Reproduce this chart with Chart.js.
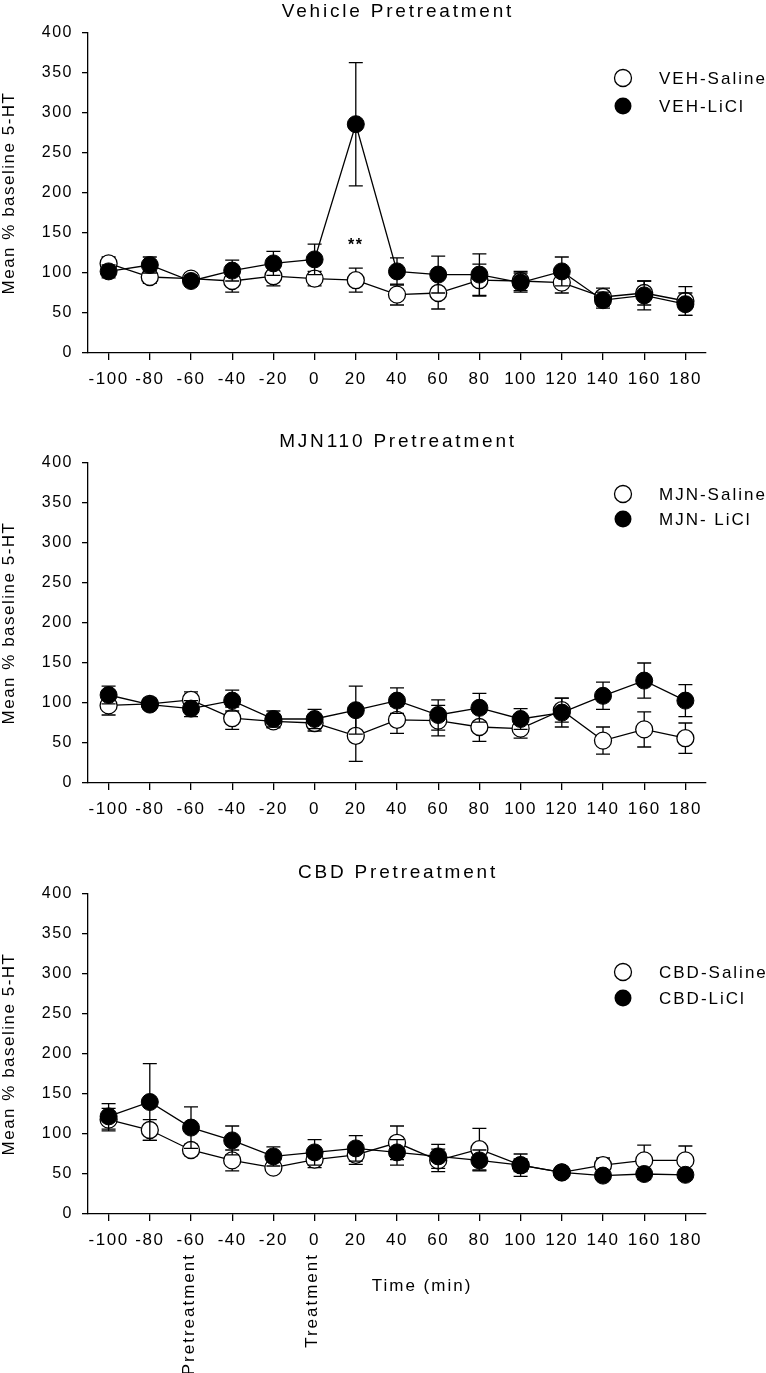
<!DOCTYPE html>
<html>
<head>
<meta charset="utf-8">
<script src="https://cdn.jsdelivr.net/npm/chart.js@4.4.1/dist/chart.umd.min.js"></script>
<style>
  body { margin: 0; background: #fff; }
  .panel { position: absolute; left: 0; width: 766px; }
</style>
</head>
<body>
<div class="panel" style="top:0px;height:430px"><canvas id="c1" width="766" height="430"></canvas></div>
<div class="panel" style="top:430px;height:430px"><canvas id="c2" width="766" height="430"></canvas></div>
<div class="panel" style="top:861px;height:512px"><canvas id="c3" width="766" height="512"></canvas></div>
<script>
// time points (min)
const xVals = [-100, -80, -60, -40, -20, 0, 20, 40, 60, 80, 100, 120, 140, 160, 180];
const yTicks = [0, 50, 100, 150, 200, 250, 300, 350, 400];

// Vehicle pretreatment
const vehSaline    = [112, 95, 93, 90, 96, 93, 91, 73, 75, 91, 90, 88, 70, 75, 65];
const vehSalineErr = [8, 8, 6, 14, 12, 9, 15, 13, 20, 20, 12, 13, 11, 15, 18];
const vehLiCl      = [102, 110, 90, 103, 112, 117, 286, 102, 98, 98, 88, 102, 66, 72, 61];
const vehLiClErr   = [8, 10, 5, 13, 15, 19, 77, 17, 23, 26, 12, 18, 10, 18, 14];

// MJN110 pretreatment
const mjnSaline    = [97, 99, 104, 81, 77, 75, 59, 79, 78, 70, 68, 91, 53, 67, 56];
const mjnSalineErr = [12, 6, 10, 14, 8, 10, 32, 17, 19, 18, 12, 15, 17, 22, 19];
const mjnLiCl      = [110, 98, 93, 103, 80, 80, 91, 103, 85, 94, 80, 88, 109, 128, 103];
const mjnLiClErr   = [11, 6, 10, 13, 10, 12, 30, 16, 19, 18, 13, 18, 17, 22, 20];

// CBD pretreatment
const cbdSaline    = [118, 105, 80, 67, 58, 68, 74, 89, 67, 81, 61, 52, 61, 67, 67];
const cbdSalineErr = [14, 13, 7, 13, 6, 10, 12, 21, 14, 26, 8, 4, 9, 19, 18];
const cbdLiCl      = [122, 140, 108, 92, 72, 77, 82, 77, 72, 67, 61, 52, 48, 50, 49];
const cbdLiClErr   = [16, 48, 26, 18, 12, 16, 16, 16, 15, 13, 14, 5, 6, 7, 6];

// significance mark and event labels
const starMark = { x: 20, y: 139, text: '**' };
const eventLabels = [{ x: -60, text: 'Pretreatment' }, { x: 0, text: 'Treatment' }];

const FONT = '"Liberation Sans", Arial, sans-serif';

function toPoints(vals) {
    return vals.map(function (v, i) { return { x: xVals[i], y: v }; });
}

// error bars, drawn just before each dataset so markers sit on top
const errorBars = {
    id: 'errorBars',
    beforeDatasetDraw(chart, args) {
        const ds = chart.data.datasets[args.index];
        const xs = chart.scales.x, ys = chart.scales.y;
        const ctx = chart.ctx;
        ctx.save();
        ctx.strokeStyle = '#000';
        ctx.lineWidth = 1.3;
        ds.data.forEach(function (p, i) {
            const px = xs.getPixelForValue(p.x);
            const top = ys.getPixelForValue(p.y + ds.err[i]);
            const bot = ys.getPixelForValue(p.y - ds.err[i]);
            ctx.beginPath();
            ctx.moveTo(px, top); ctx.lineTo(px, bot);
            ctx.moveTo(px - 7, top); ctx.lineTo(px + 7, top);
            ctx.moveTo(px - 7, bot); ctx.lineTo(px + 7, bot);
            ctx.stroke();
        });
        ctx.restore();
    }
};

// titles, legend and annotations
const panelText = {
    id: 'panelText',
    beforeDraw(chart) {
        chart.ctx.letterSpacing = '1.5px';
    },
    afterDraw(chart, args, opts) {
        const ctx = chart.ctx;
        const area = chart.chartArea;
        const xs = chart.scales.x, ys = chart.scales.y;
        ctx.save();
        ctx.fillStyle = '#000';

        // panel title
        ctx.letterSpacing = '2.8px';
        ctx.font = '19px ' + FONT;
        ctx.textAlign = 'center';
        ctx.textBaseline = 'alphabetic';
        ctx.fillText(opts.title, (area.left + area.right) / 2 + 1, 17);

        // legend
        ctx.letterSpacing = '2px';
        ctx.font = '17px ' + FONT;
        ctx.textAlign = 'left';
        ctx.textBaseline = 'middle';
        opts.legend.forEach(function (name, i) {
            const ly = opts.legendY[i];
            ctx.beginPath();
            ctx.arc(623, ly, 8.5, 0, Math.PI * 2);
            if (i === 0) {
                ctx.fillStyle = '#fff';
                ctx.fill();
                ctx.lineWidth = 1.3;
                ctx.strokeStyle = '#000';
                ctx.stroke();
            } else {
                ctx.fillStyle = '#000';
                ctx.fill();
            }
            ctx.fillStyle = '#000';
            ctx.fillText(name, 659, ly + 1);
        });

        if (opts.stars) {
            ctx.letterSpacing = '1.5px';
            ctx.font = 'bold 16px ' + FONT;
            ctx.textAlign = 'center';
            ctx.textBaseline = 'alphabetic';
            ctx.fillText(starMark.text, xs.getPixelForValue(starMark.x), ys.getPixelForValue(starMark.y) + 8);
        }

        if (opts.events) {
            ctx.letterSpacing = '2px';
            ctx.font = '17px ' + FONT;
            ctx.textAlign = 'center';
            ctx.textBaseline = 'middle';
            ctx.fillText('Time (min)', (area.left + area.right) / 2 + 25, area.bottom + 72);

            ctx.textAlign = 'right';
            eventLabels.forEach(function (ev) {
                ctx.save();
                ctx.translate(xs.getPixelForValue(ev.x) - 2, area.bottom + 39);
                ctx.rotate(-Math.PI / 2);
                ctx.fillText(ev.text, 0, 0);
                ctx.restore();
            });
        }
        ctx.restore();
    }
};

function makeChart(id, saline, salineErr, licl, liclErr, opts, xHeight) {
    const ctx = document.getElementById(id).getContext('2d');
    return new Chart(ctx, {
        type: 'line',
        data: {
            datasets: [{
                label: opts.legend[0],
                data: toPoints(saline),
                err: salineErr,
                order: 2,
                borderColor: '#000',
                borderWidth: 1.3,
                pointRadius: 8.5,
                pointBackgroundColor: '#fff',
                pointBorderColor: '#000',
                pointBorderWidth: 1.3,
                tension: 0
            }, {
                label: opts.legend[1],
                data: toPoints(licl),
                err: liclErr,
                order: 1,
                borderColor: '#000',
                borderWidth: 1.3,
                pointRadius: 8.5,
                pointBackgroundColor: '#000',
                pointBorderColor: '#000',
                pointBorderWidth: 1,
                tension: 0
            }]
        },
        plugins: [errorBars, panelText],
        options: {
            responsive: false,
            animation: false,
            layout: { padding: { top: 33, right: 60, left: 0, bottom: 0 } },
            scales: {
                x: {
                    type: 'linear',
                    min: -110,
                    max: 190,
                    afterBuildTicks: function (axis) {
                        axis.ticks = xVals.map(function (v) { return { value: v }; });
                    },
                    afterFit: function (axis) { axis.height = xHeight; },
                    ticks: {
                        autoSkip: false,
                        maxRotation: 0,
                        padding: 9,
                        color: '#000',
                        font: { size: 17, family: FONT }
                    },
                    grid: { drawOnChartArea: false, drawTicks: true, tickLength: 7, color: '#000', lineWidth: 1.3 },
                    border: { display: true, color: '#000', width: 1.3 }
                },
                y: {
                    min: 0,
                    max: 400,
                    afterBuildTicks: function (axis) {
                        axis.ticks = yTicks.map(function (v) { return { value: v }; });
                    },
                    afterFit: function (axis) { axis.width = 88; },
                    title: {
                        display: true,
                        text: 'Mean % baseline 5-HT',
                        color: '#000',
                        padding: { top: 0, bottom: 0 },
                        font: { size: 17, family: FONT, lineHeight: 1.1 }
                    },
                    ticks: {
                        padding: 9,
                        color: '#000',
                        font: { size: 16, family: FONT }
                    },
                    grid: { drawOnChartArea: false, drawTicks: true, tickLength: 6, color: '#000', lineWidth: 1.3 },
                    border: { display: true, color: '#000', width: 1.3 }
                }
            },
            plugins: {
                legend: { display: false },
                tooltip: { enabled: false },
                panelText: opts
            }
        }
    });
}

makeChart('c1', vehSaline, vehSalineErr, vehLiCl, vehLiClErr,
    { title: 'Vehicle Pretreatment', legend: ['VEH-Saline', 'VEH-LiCl'], legendY: [78, 106], stars: true }, 77);
makeChart('c2', mjnSaline, mjnSalineErr, mjnLiCl, mjnLiClErr,
    { title: 'MJN110 Pretreatment', legend: ['MJN-Saline', 'MJN- LiCl'], legendY: [64, 89] }, 77);
makeChart('c3', cbdSaline, cbdSalineErr, cbdLiCl, cbdLiClErr,
    { title: 'CBD Pretreatment', legend: ['CBD-Saline', 'CBD-LiCl'], legendY: [111, 137], events: true }, 159);
</script>
</body>
</html>
